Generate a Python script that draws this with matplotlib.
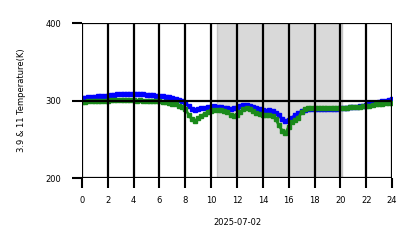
import numpy as np
import matplotlib
matplotlib.use("Agg")
import matplotlib.pyplot as plt

# 15-minute samples, 0h .. 24h
hours = [i * 0.25 for i in range(97)]
temp_3_9 = [
    303, 303.5, 304, 304.5,
    305, 305.5, 306, 306,
    306.5, 307, 307.5, 308,
    308.5, 309, 308.5, 309,
    308.5, 308, 308.5, 308,
    307.5, 307, 307.5, 306.5,
    306, 305.5, 305, 304,
    303, 302, 300.5, 299,
    297, 293, 289, 288,
    289, 290, 291, 291.5,
    292, 292.5, 292, 291.5,
    291, 290, 289.5, 290,
    291, 292.5, 294, 294.5,
    293.5, 292, 290, 288.5,
    288, 287, 287.5, 286,
    284, 281, 276, 273,
    275, 278, 281, 284,
    286, 287.5, 288.5, 289,
    289, 289, 289.5, 289,
    289, 289, 289.5, 289.5,
    290, 290.5, 291, 291.5,
    292, 292, 292.5, 293,
    294, 295, 296, 297,
    298, 299, 300, 301,
    302,
]
temp_11 = [
    298, 298.5, 299, 299,
    299.5, 299.5, 300, 300,
    300, 300.5, 300.5, 300.5,
    300.5, 301, 300.5, 300.5,
    300.5, 300, 300.5, 300,
    300, 299.5, 299.5, 299,
    299, 298.5, 298, 297,
    296, 295, 293.5, 292,
    289, 282, 276, 274,
    277, 280, 283, 285,
    286.5, 287.5, 288, 287.5,
    287, 285, 282, 280,
    281, 285, 289, 290,
    289, 286, 284, 283,
    282, 281, 281, 280,
    276, 268, 261, 258,
    266, 272, 275, 278,
    285, 288.5, 290, 290.5,
    290.5, 290.5, 290.5, 290.5,
    290.5, 290.5, 290.5, 290.5,
    290.5, 291, 291, 291.5,
    292, 292, 292, 292.5,
    293, 293.5, 294, 295,
    295.5, 296, 296.5, 297,
    297.5,
]
night_span = [10.45, 20.1]
x_ticks = list(range(0, 25, 2))
y_ticks = [200, 300, 400]

fig = plt.figure(figsize=(4.18, 2.48), dpi=100)
ax = fig.add_axes([0.196, 0.282, 0.742, 0.625])

ax.axvspan(night_span[0], night_span[1], facecolor="#d9d9d9", edgecolor="#c4c4c4", lw=1, zorder=0)

ax.plot(hours, temp_3_9, color="#0000ff", marker="s", ms=2.2, lw=2.0, zorder=1)
ax.plot(hours, temp_11, color="#1a8a1a", marker="s", ms=2.2, lw=2.0, zorder=1.5)

ax.set_xlim(0, 24)
ax.set_ylim(200, 400)
ax.set_xticks(x_ticks)
ax.set_yticks(y_ticks)
ax.grid(True, color="black", lw=1.6, zorder=3)
for gl in ax.get_xgridlines() + ax.get_ygridlines():
    gl.set_zorder(3)
for s in ax.spines.values():
    s.set_visible(False)
ax.tick_params(axis="both", length=7, width=1.5, labelsize=6, color="black")
ax.tick_params(axis="x", pad=6)
ax.tick_params(axis="y", pad=8)
ax.set_xlabel("2025-07-02", fontsize=6, labelpad=9)
ax.set_ylabel("3.9 & 11 Temperature(K)", fontsize=6, labelpad=14)

fig.savefig("out.png", dpi=100)
